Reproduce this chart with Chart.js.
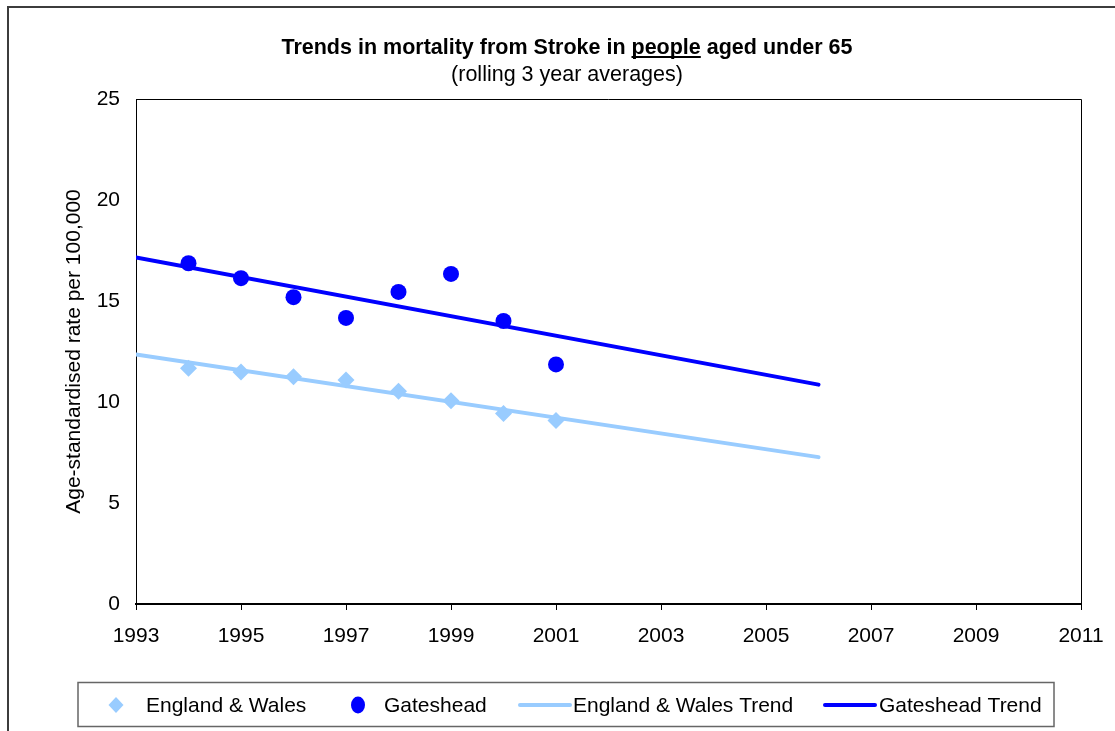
<!DOCTYPE html>
<html lang="en">
<head>
<meta charset="UTF-8">
<title>Trends in mortality from Stroke</title>
<script src="https://cdn.jsdelivr.net/npm/chart.js"></script>
<style>body { margin: 0; background: #fff; }</style>
</head>
<body>
<canvas id="myChart" width="1115" height="731"></canvas>
<script>
// Values
const pointYears = [1994, 1995, 1996, 1997, 1998, 1999, 2000, 2001];
const englandWales = [11.67, 11.48, 11.25, 11.09, 10.53, 10.06, 9.43, 9.09];
const gateshead = [16.87, 16.13, 15.19, 14.16, 15.45, 16.34, 14.01, 11.86];
const trendYears = [1993, 2006];
const englandWalesTrend = [12.35, 7.27];
const gatesheadTrend = [17.16, 10.86];
const yearTicks = [1993, 1995, 1997, 1999, 2001, 2003, 2005, 2007, 2009, 2011];
const rateTicks = [0, 5, 10, 15, 20, 25];

const FONT = 'Liberation Sans, Arial, sans-serif';
const lightBlue = '#99CCFF';
const blue = '#0000FF';

const toXY = (xs, ys) => xs.map((x, i) => ({ x: x, y: ys[i] }));

// frame, plot border, title (with an underlined word) and the boxed legend
const decorations = {
    id: 'decorations',
    beforeDraw(chart) {
        const ctx = chart.ctx;
        ctx.save();
        ctx.fillStyle = '#fff';
        ctx.fillRect(0, 0, chart.width, chart.height);
        ctx.restore();
    },
    afterDraw(chart) {
        const ctx = chart.ctx;
        const a = chart.chartArea;
        ctx.save();
        // outer frame
        ctx.strokeStyle = '#3c3c3c';
        ctx.lineWidth = 2;
        ctx.beginPath();
        ctx.moveTo(8, 731);
        ctx.lineTo(8, 7);
        ctx.lineTo(1115, 7);
        ctx.stroke();

        // top and right edges of the plot area
        ctx.strokeStyle = '#000';
        ctx.lineWidth = 1;
        ctx.beginPath();
        ctx.moveTo(a.left, a.top + 0.5);
        ctx.lineTo(a.right + 0.5, a.top + 0.5);
        ctx.lineTo(a.right + 0.5, a.bottom);
        ctx.stroke();

        // title
        const cx = 567;
        const parts = ['Trends in mortality from Stroke in ', 'people', ' aged under 65'];
        ctx.font = 'bold 21.5px ' + FONT;
        ctx.fillStyle = '#000';
        ctx.textBaseline = 'alphabetic';
        ctx.textAlign = 'left';
        const widths = parts.map(p => ctx.measureText(p).width);
        let x = cx - widths.reduce((s, w) => s + w, 0) / 2;
        parts.forEach((p, i) => {
            ctx.fillText(p, x, 54);
            if (i === 1) {
                ctx.fillRect(x, 56, widths[i], 2);
            }
            x += widths[i];
        });
        ctx.font = '21.5px ' + FONT;
        ctx.textAlign = 'center';
        ctx.fillText('(rolling 3 year averages)', cx, 81);

        // legend box
        ctx.strokeStyle = '#666';
        ctx.lineWidth = 1.5;
        ctx.strokeRect(78, 682.5, 976, 44);
        const items = [
            { mark: 116, text: 146 },
            { mark: 358, text: 384 },
            { mark: [520, 570], text: 573 },
            { mark: [825, 875], text: 879 }
        ];
        const ly = 705;
        ctx.font = '21px ' + FONT;
        ctx.textAlign = 'left';
        ctx.textBaseline = 'middle';
        chart.data.datasets.forEach((ds, i) => {
            const it = items[i];
            if (Array.isArray(it.mark)) {
                ctx.strokeStyle = ds.borderColor;
                ctx.lineWidth = ds.borderWidth;
                ctx.lineCap = 'round';
                ctx.beginPath();
                ctx.moveTo(it.mark[0], ly);
                ctx.lineTo(it.mark[1], ly);
                ctx.stroke();
            } else {
                ctx.fillStyle = ds.backgroundColor;
                ctx.beginPath();
                if (ds.pointStyle === 'rectRot') {
                    ctx.moveTo(it.mark, ly - 8);
                    ctx.lineTo(it.mark + 7.5, ly);
                    ctx.lineTo(it.mark, ly + 8);
                    ctx.lineTo(it.mark - 7.5, ly);
                    ctx.closePath();
                } else {
                    ctx.ellipse(it.mark, ly, 7, 8.5, 0, 0, Math.PI * 2);
                }
                ctx.fill();
            }
            ctx.fillStyle = '#000';
            ctx.fillText(ds.label, it.text, ly + 1);
        });
        ctx.restore();
    }
};

Chart.defaults.font.family = FONT;
Chart.defaults.color = '#000';

const ctx = document.getElementById('myChart').getContext('2d');
const myChart = new Chart(ctx, {
    type: 'scatter',
    data: {
        datasets: [
            {
                label: 'England & Wales',
                data: toXY(pointYears, englandWales),
                pointStyle: 'rectRot',
                pointRadius: 8.5,
                backgroundColor: lightBlue,
                borderColor: lightBlue,
                borderWidth: 0
            },
            {
                label: 'Gateshead',
                data: toXY(pointYears, gateshead),
                pointStyle: 'circle',
                pointRadius: 8,
                backgroundColor: blue,
                borderColor: blue,
                borderWidth: 0
            },
            {
                label: 'England & Wales Trend',
                data: toXY(trendYears, englandWalesTrend),
                showLine: true,
                pointRadius: 0,
                borderColor: lightBlue,
                backgroundColor: lightBlue,
                borderWidth: 4,
                borderCapStyle: 'round'
            },
            {
                label: 'Gateshead Trend',
                data: toXY(trendYears, gatesheadTrend),
                showLine: true,
                pointRadius: 0,
                borderColor: blue,
                backgroundColor: blue,
                borderWidth: 4,
                borderCapStyle: 'round'
            }
        ]
    },
    options: {
        responsive: false,
        animation: false,
        layout: {
            padding: { left: 0, right: 34, top: 99, bottom: 77 }
        },
        scales: {
            x: {
                type: 'linear',
                min: 1993,
                max: 2011,
                clip: false,
                afterBuildTicks: scale => { scale.ticks = yearTicks.map(v => ({ value: v })); },
                afterFit: scale => {
                    scale.height = 50;
                    scale.paddingLeft = 0;
                    scale.paddingRight = 0;
                },
                ticks: {
                    font: { size: 21 },
                    padding: 14,
                    maxRotation: 0,
                    callback: v => String(v)
                },
                grid: {
                    drawOnChartArea: false,
                    drawTicks: true,
                    tickLength: 6,
                    color: '#000'
                },
                border: { display: true, color: '#000', width: 2 }
            },
            y: {
                min: 0,
                max: 25,
                clip: false,
                afterBuildTicks: scale => { scale.ticks = rateTicks.map(v => ({ value: v })); },
                afterFit: scale => {
                    scale.width = 136;
                    scale.paddingTop = 0;
                    scale.paddingBottom = 0;
                },
                ticks: {
                    font: { size: 21 },
                    padding: 16
                },
                grid: { display: false, drawTicks: false },
                border: { display: true, color: '#000', width: 1 },
                title: {
                    display: true,
                    text: 'Age-standardised rate per 100,000',
                    font: { size: 21 },
                    padding: { top: 62, bottom: 0 }
                }
            }
        },
        plugins: {
            legend: { display: false },
            tooltip: { enabled: false },
            title: { display: false }
        }
    },
    plugins: [decorations]
});
</script>
</body>
</html>
